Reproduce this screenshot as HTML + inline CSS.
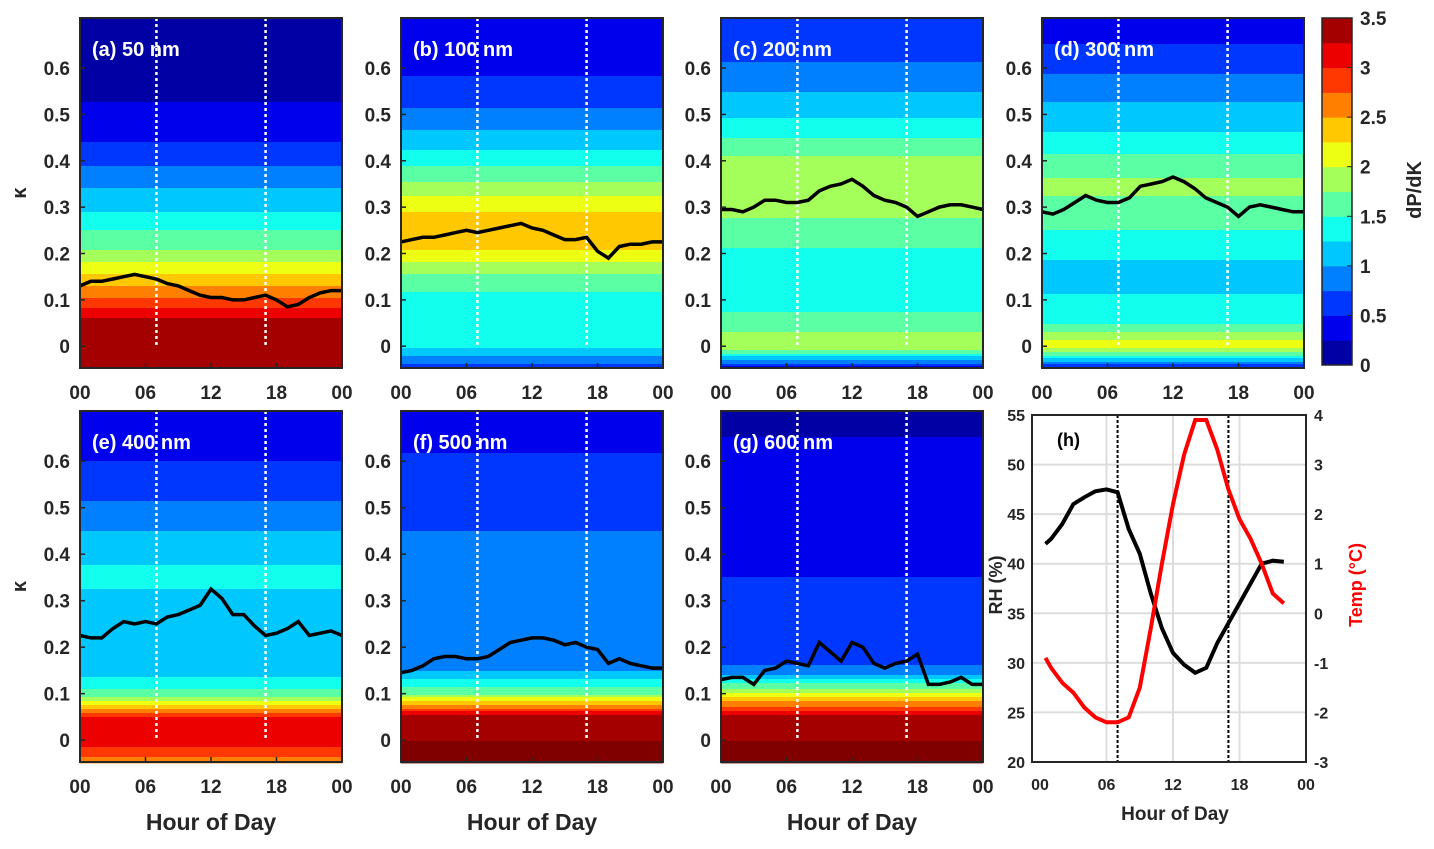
<!DOCTYPE html>
<html><head><meta charset="utf-8"><style>
body{margin:0;background:#fff;}
svg{display:block;font-family:"Liberation Sans",Arial,sans-serif;font-weight:bold;}
</style></head><body>
<svg id="fig" width="1434" height="849" xmlns="http://www.w3.org/2000/svg"></svg>
<script>
const NS="http://www.w3.org/2000/svg";
const svg=document.getElementById('fig');
// data
const kappaLevels=[-0.05,0,0.05,0.1,0.15,0.2,0.25,0.3,0.35,0.4,0.45,0.5,0.55,0.6,0.65,0.7];
const panelTitles=["(a) 50 nm","(b) 100 nm","(c) 200 nm","(d) 300 nm","(e) 400 nm","(f) 500 nm","(g) 600 nm"];
const profA=[3.4,3.45,3.4,2.8,2.3,1.8,1.5,1.2,0.95,0.7,0.45,0.3,0.2,0.15,0.1,0.1];
const profB=[0.6,1.3,1.5,1.4,1.7,2.2,2.5,2.2,1.8,1.4,1.1,0.8,0.6,0.45,0.35,0.3];
const profC=[0.3,2.0,1.6,1.4,1.3,1.45,1.65,1.85,1.95,1.8,1.5,1.2,1.0,0.8,0.6,0.5];
const profD=[0.4,2.2,1.5,1.3,1.1,1.3,1.5,1.7,1.8,1.6,1.3,1.1,0.9,0.7,0.5,0.4];
const profE=[2.6,3.2,3.0,1.6,1.1,1.0,1.1,1.2,1.3,1.2,1.0,0.8,0.6,0.5,0.35,0.3];
const profF=[3.5,3.5,3.4,1.7,1.0,0.85,0.8,0.8,0.8,0.8,0.75,0.7,0.6,0.55,0.4,0.3];
const profG=[3.5,3.5,3.4,2.0,0.8,0.6,0.55,0.5,0.5,0.45,0.45,0.4,0.35,0.35,0.25,0.2];
const hours=[0,1,2,3,4,5,6,7,8,9,10,11,12,13,14,15,16,17,18,19,20,21,22,23,24];
const medA=[0.13,0.14,0.14,0.145,0.15,0.155,0.15,0.145,0.135,0.13,0.12,0.11,0.105,0.105,0.1,0.1,0.105,0.11,0.1,0.085,0.09,0.105,0.115,0.12,0.12];
const medB=[0.225,0.23,0.235,0.235,0.24,0.245,0.25,0.245,0.25,0.255,0.26,0.265,0.255,0.25,0.24,0.23,0.23,0.235,0.205,0.19,0.215,0.22,0.22,0.225,0.225];
const medC=[0.295,0.295,0.29,0.3,0.315,0.315,0.31,0.31,0.315,0.335,0.345,0.35,0.36,0.345,0.325,0.315,0.31,0.3,0.28,0.29,0.3,0.305,0.305,0.3,0.295];
const medD=[0.29,0.285,0.295,0.31,0.325,0.315,0.31,0.31,0.32,0.345,0.35,0.355,0.365,0.355,0.34,0.32,0.31,0.3,0.28,0.3,0.305,0.3,0.295,0.29,0.29];
const medE=[0.225,0.22,0.22,0.24,0.255,0.25,0.255,0.25,0.265,0.27,0.28,0.29,0.325,0.305,0.27,0.27,0.245,0.225,0.23,0.24,0.255,0.225,0.23,0.235,0.225];
const medF=[0.145,0.15,0.16,0.175,0.18,0.18,0.175,0.175,0.18,0.195,0.21,0.215,0.22,0.22,0.215,0.205,0.21,0.2,0.195,0.165,0.175,0.165,0.16,0.155,0.155];
const medG=[0.13,0.135,0.135,0.12,0.15,0.155,0.17,0.165,0.16,0.21,0.19,0.17,0.21,0.2,0.165,0.155,0.165,0.17,0.185,0.12,0.12,0.125,0.135,0.12,0.12];
const kTicks=[0,0.1,0.2,0.3,0.4,0.5,0.6];
const kTickLabels=["0","0.1","0.2","0.3","0.4","0.5","0.6"];
const hTicks=[0,6,12,18,24];
const hTickLabels=["00","06","12","18","00"];
const cbTicks=[0,0.5,1,1.5,2,2.5,3,3.5];
const cbTickLabels=["0","0.5","1","1.5","2","2.5","3","3.5"];
const metHours=[0.5,1,2,3,4,5,6,7,8,9,10,11,12,13,14,15,16,17,18,19,20,21,22];
const rh=[42,42.5,44,46,46.7,47.3,47.5,47.2,43.5,41,37,33.5,31,29.8,29,29.5,32,34,36,38,40,40.3,40.2];
const temp=[-0.9,-1.1,-1.4,-1.6,-1.9,-2.1,-2.2,-2.2,-2.1,-1.5,-0.3,1,2.2,3.2,3.9,3.9,3.3,2.5,1.9,1.5,1,0.4,0.2];
const rhTicks=[20,25,30,35,40,45,50,55];
const tTicks=[-3,-2,-1,0,1,2,3,4];
const sunHours=[7,17];

function el(t,a,p){const e=document.createElementNS(NS,t);for(const k in a)e.setAttribute(k,a[k]);(p||svg).appendChild(e);return e;}
function txt(x,y,s,size,anchor,fill,p){const e=el('text',{x:x,y:y,'font-size':size,'text-anchor':anchor||'middle',fill:fill||'#000'},p);e.textContent=s;return e;}
function jet(v){let t=Math.max(0,Math.min(1,v/3.5));
 const r=Math.max(0,Math.min(1,1.5-Math.abs(4*t-3))),g=Math.max(0,Math.min(1,1.5-Math.abs(4*t-2))),b=Math.max(0,Math.min(1,1.5-Math.abs(4*t-1)));
 return `rgb(${Math.round(r*255)},${Math.round(g*255)},${Math.round(b*255)})`;}
function interp(xs,ys,x){if(x<=xs[0])return ys[0];for(let i=1;i<xs.length;i++){if(x<=xs[i]){const f=(x-xs[i-1])/(xs[i]-xs[i-1]);return ys[i-1]+f*(ys[i]-ys[i-1]);}}return ys[ys.length-1];}

const W=262;
const panels=[
 {x:80,y:18,h:350,prof:profA,med:medA,yl:true},
 {x:401,y:18,h:350,prof:profB,med:medB},
 {x:721,y:18,h:350,prof:profC,med:medC},
 {x:1042,y:18,h:350,prof:profD,med:medD},
 {x:80,y:411,h:351,prof:profE,med:medE,yl:true,xl:true},
 {x:401,y:411,h:351,prof:profF,med:medF,xl:true},
 {x:721,y:411,h:351,prof:profG,med:medG,xl:true}];
const names=["a","b","c","d","e","f","g"];
panels.forEach((P,i)=>{
 const g=el('g',{});
 
 
 const kmin=-0.047,kmax=0.708;
 const sy=k=>P.y+P.h-(k-kmin)/(kmax-kmin)*P.h;
 const sx=hh=>P.x+hh/24*W;
 for(let py=0;py<P.h;py+=2){
  const k=kmax-(py+1)/P.h*(kmax-kmin);
  let v=interp(kappaLevels,P.prof,k);
  v=Math.floor(v/0.25)*0.25+0.125;
  const r=el('rect',{x:P.x,y:P.y+py,width:W,height:2.4,fill:jet(v)},g);
  
  
 }
 sunHours.forEach(hh=>{const l=el('line',{x1:sx(hh),x2:sx(hh),y1:P.y,y2:sy(0),stroke:'#fff','stroke-width':2.5,'stroke-dasharray':'3,3'},g);
  });
 const pts=hours.map((hh,j)=>sx(hh).toFixed(1)+','+sy(P.med[j]).toFixed(1)).join(' ');
 const pl=el('polyline',{points:pts,fill:'none',stroke:'#000','stroke-width':3.5},g);
 
 const fr=el('rect',{x:P.x,y:P.y,width:W,height:P.h,fill:'none',stroke:'#262626','stroke-width':2},g);
 
 kTicks.forEach((k,j)=>{el('line',{x1:P.x,x2:P.x+5,y1:sy(k),y2:sy(k),stroke:'#262626','stroke-width':1.5},g);
  const t=txt(P.x-10,sy(k)+7,kTickLabels[j],19,'end','#262626',g);});
 hTicks.forEach((hh,j)=>{el('line',{x1:sx(hh),x2:sx(hh),y1:P.y+P.h,y2:P.y+P.h-5,stroke:'#262626','stroke-width':1.5},g);
  const t=txt(sx(hh),P.y+P.h+31,hTickLabels[j],19,'middle','#262626',g);});
 const tt=txt(P.x+12,P.y+38,panelTitles[i],20,'start','#fff',g);
 
 if(P.yl){const t=txt(0,0,'κ',20,'middle','#262626',g);t.setAttribute('transform',`translate(26,${P.y+P.h*0.5}) rotate(-90)`);}
 if(P.xl){const t=txt(P.x+W/2,P.y+P.h+68,'Hour of Day',23,'middle','#262626',g);}
});
{const g=el('g',{});
 const cx=1322,cy=18,cw=30,ch=347;
 for(let i=0;i<14;i++){el('rect',{x:cx,y:cy+ch-(i+1)*ch/14,width:cw,height:ch/14+0.5,fill:jet(i*0.25+0.125)},g);}
 el('rect',{x:cx,y:cy,width:cw,height:ch,fill:'none',stroke:'#262626','stroke-width':1.5},g);
 cbTicks.forEach((v,j)=>{const y=cy+ch-v/3.5*ch;el('line',{x1:cx+cw-5,x2:cx+cw,y1:y,y2:y,stroke:'#262626'},g);
  const t=txt(cx+cw+8,y+7,cbTickLabels[j],19,'start','#262626',g);});
 const t=txt(0,0,'dP/dK',20,'middle','#262626',g);t.setAttribute('transform','translate(1421,190) rotate(-90)');
}
{const g=el('g',{});
 const X0=1032,Y0=415,PW=274,PH=347;
 const hx=hh=>1040+hh/24*266;
 const ry=v=>Y0+PH-(v-20)/35*PH;
 const ty=v=>Y0+PH-(v+3)/7*PH;
 rhTicks.forEach(v=>{el('line',{x1:X0,x2:X0+PW,y1:ry(v),y2:ry(v),stroke:'#ddd','stroke-width':2},g);});
 [6,12,18].forEach(hh=>el('line',{x1:hx(hh),x2:hx(hh),y1:Y0,y2:Y0+PH,stroke:'#ddd','stroke-width':2},g));
 sunHours.forEach(hh=>{const l=el('line',{x1:hx(hh),x2:hx(hh),y1:Y0,y2:Y0+PH,stroke:'#000','stroke-width':2,'stroke-dasharray':'3,2'},g);});
 const p1=el('polyline',{points:metHours.map((hh,j)=>hx(hh).toFixed(1)+','+ry(rh[j]).toFixed(1)).join(' '),fill:'none',stroke:'#000','stroke-width':4},g);
 
 const p2=el('polyline',{points:metHours.map((hh,j)=>hx(hh).toFixed(1)+','+ty(temp[j]).toFixed(1)).join(' '),fill:'none',stroke:'#f00','stroke-width':4},g);
 
 el('rect',{x:X0,y:Y0,width:PW,height:PH,fill:'none',stroke:'#262626','stroke-width':2},g);
 rhTicks.forEach(v=>{const t=txt(X0-7,ry(v)+6,String(v),16,'end','#262626',g);});
 tTicks.forEach(v=>{const t=txt(X0+PW+8,ty(v)+6,String(v),16,'start','#262626',g);});
 hTicks.forEach((hh,j)=>{const t=txt(hx(hh),Y0+PH+28,hTickLabels[j],16,'middle','#262626',g);});
 let t=txt(1175,820,'Hour of Day',19,'middle','#262626',g);
 t=txt(0,0,'RH (%)',18,'middle','#262626',g);t.setAttribute('transform','translate(1002,585) rotate(-90)');
 t=txt(0,0,'Temp (°C)',18,'middle','#f00',g);t.setAttribute('transform','translate(1362,585) rotate(-90)');
 t=txt(1057,446,'(h)',18,'start','#000',g);
}
</script>
</body></html>
